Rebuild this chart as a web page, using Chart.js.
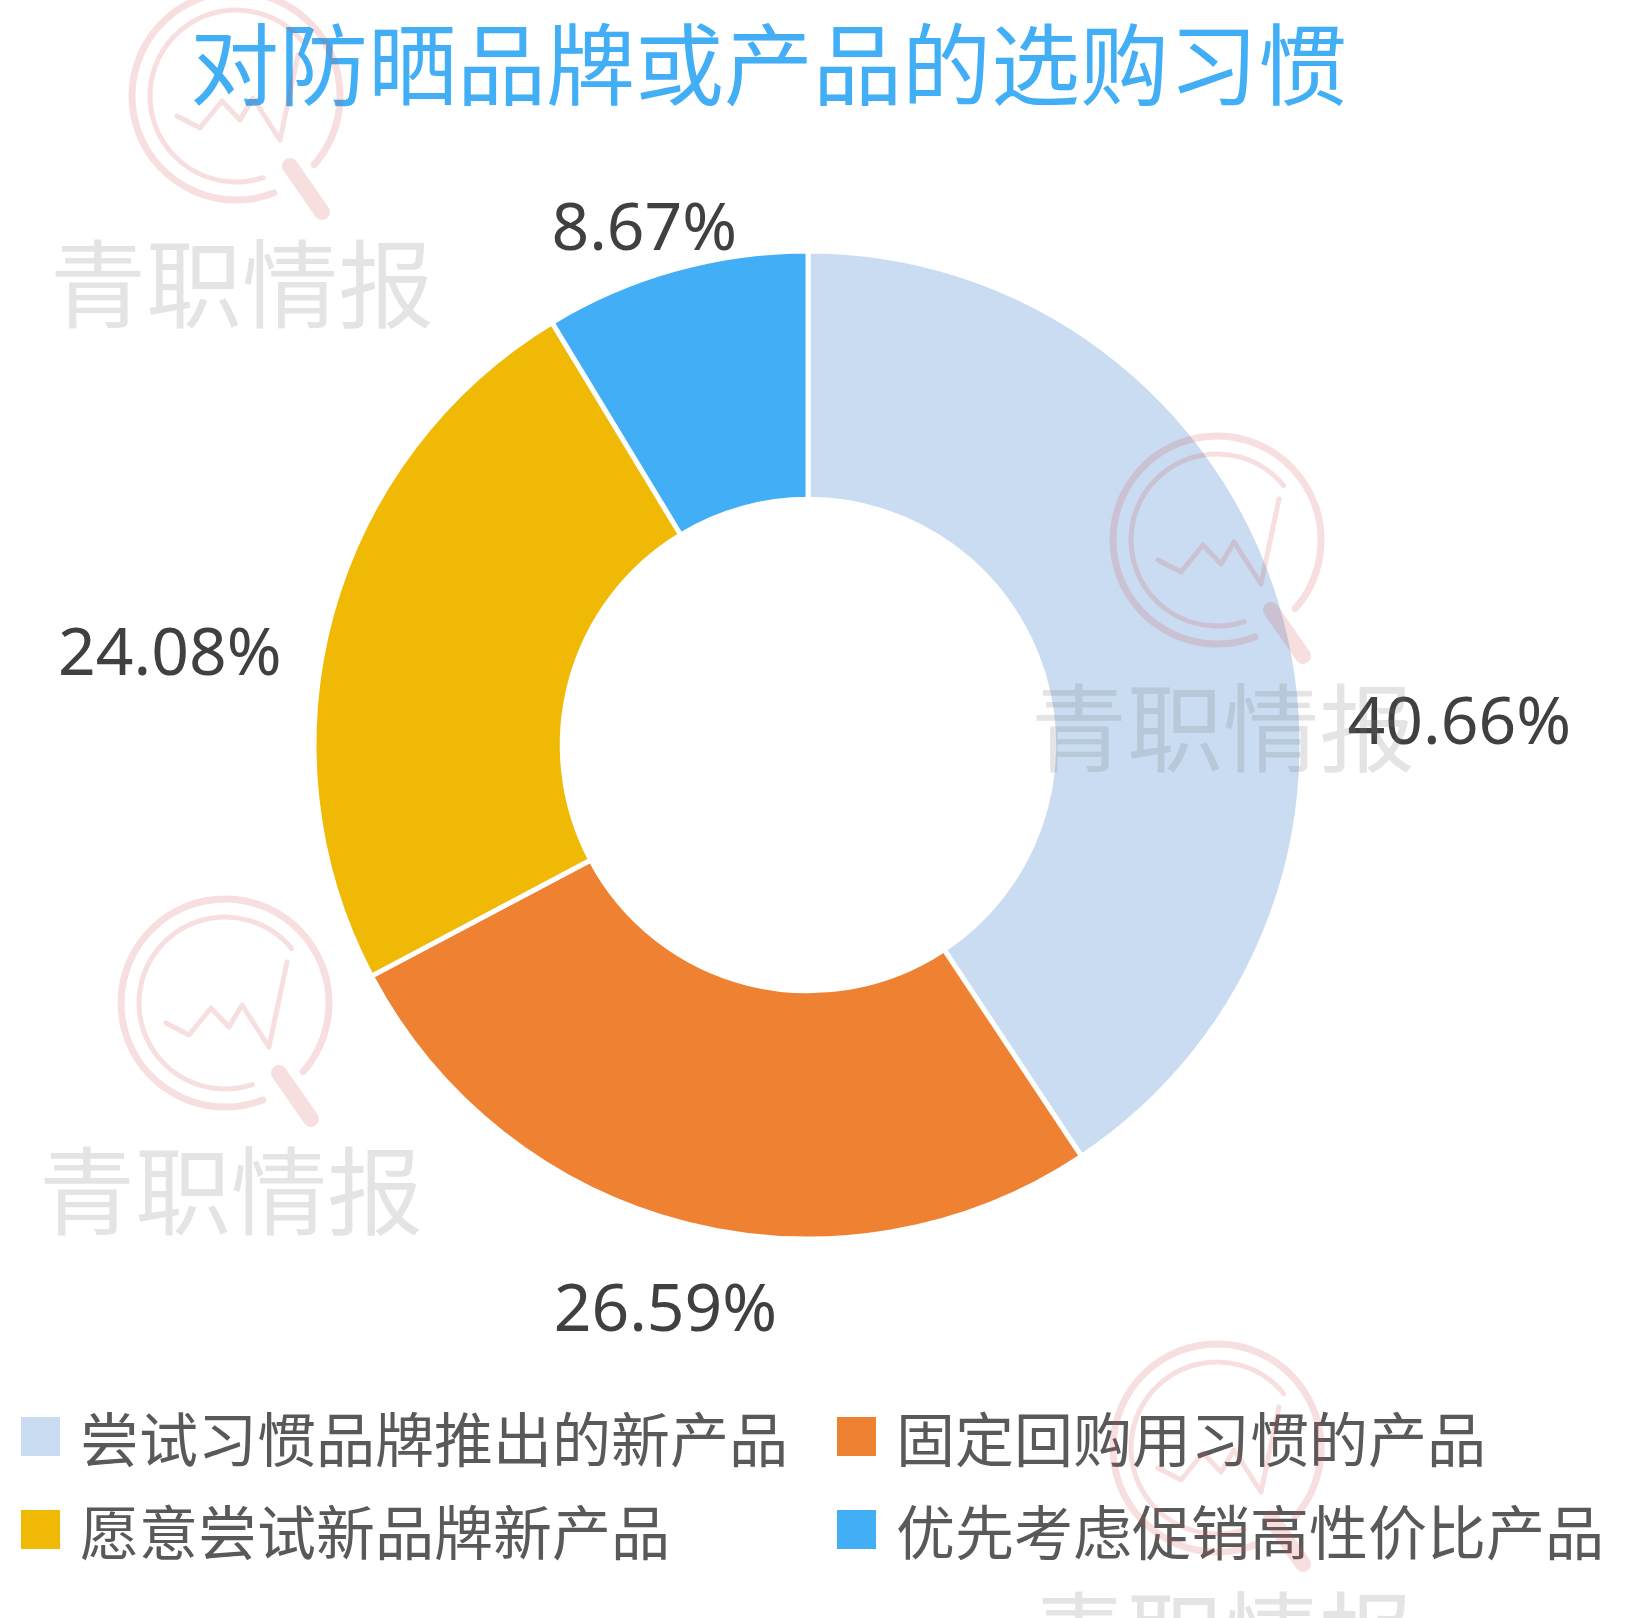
<!DOCTYPE html>
<html lang="zh-CN">
<head>
<meta charset="utf-8">
<title>对防晒品牌或产品的选购习惯</title>
<script src="https://cdn.jsdelivr.net/npm/chart.js@4.4.1/dist/chart.umd.min.js"></script>
<style>
  html, body { margin: 0; padding: 0; background: #fff; }
  #page { position: relative; width: 1629px; height: 1618px; overflow: hidden; }
  #habit-chart, #watermark { position: absolute; left: 0; top: 0; }
  #watermark { pointer-events: none; }
  .chart-title {
    position: absolute; left: 190px; top: 15px; margin: 0;
    font: 400 89px/89px "Noto Sans CJK SC", sans-serif;
    color: #42aef5; white-space: nowrap;
  }
  .legend {
    position: absolute; left: 21px; top: 1390px;
    display: grid; grid-template-columns: 816px auto; grid-auto-rows: 93px;
  }
  .legend-item { display: flex; align-items: center; }
  .legend-box { width: 39px; height: 39px; margin-right: 20px; flex: none; }
  .legend-text {
    font: 400 59px/59px "Noto Sans CJK SC", sans-serif;
    color: #595959; white-space: nowrap;
  }
</style>
</head>
<body>
<div id="page">
  <canvas id="habit-chart" width="1629" height="1618"></canvas>
  <h1 class="chart-title">对防晒品牌或产品的选购习惯</h1>
  <div class="legend" id="habit-legend"></div>
  <canvas id="watermark" width="1629" height="1618"></canvas>
</div>
<script>
const categories = ['尝试习惯品牌推出的新产品', '固定回购用习惯的产品', '愿意尝试新品牌新产品', '优先考虑促销高性价比产品'];
const shares = [40.66, 26.59, 24.08, 8.67];

const sliceColors = ['#c9dcf1', '#ee8232', '#f0b905', '#42aef6'];
// excel had nudged its data labels off the slice middles
const labelNudgeDeg = [14.6, 0, -7.1, -1.9];
const labelGap = [46, 61, 38, 25];
const watermarkSpots = [[242, 284], [1223, 728], [231, 1191], [1223, 1636]];

(function() {
  const canvas = document.getElementById('habit-chart');
  if (typeof Chart === 'undefined') {
    return;
  }

  const sliceLabels = {
    id: 'sliceLabels',
    afterDatasetsDraw(chart) {
      const { ctx } = chart;
      const meta = chart.getDatasetMeta(0);
      ctx.save();
      ctx.font = '400 66px "Noto Sans", sans-serif';
      ctx.fillStyle = '#404040';
      ctx.textAlign = 'center';
      ctx.textBaseline = 'middle';
      meta.data.forEach((arc, i) => {
        const { x, y, startAngle, endAngle, outerRadius } =
          arc.getProps(['x', 'y', 'startAngle', 'endAngle', 'outerRadius'], true);
        const angle = (startAngle + endAngle) / 2 + labelNudgeDeg[i] * Math.PI / 180;
        const text = shares[i].toFixed(2) + '%';
        const halfW = ctx.measureText(text).width / 2;
        const halfH = 24;
        const c = Math.abs(Math.cos(angle));
        const s = Math.abs(Math.sin(angle));
        const toEdge = Math.min(c > 1e-6 ? halfW / c : Infinity, s > 1e-6 ? halfH / s : Infinity);
        const r = outerRadius + labelGap[i] + toEdge;
        ctx.fillText(text, x + Math.cos(angle) * r, y + Math.sin(angle) * r + 5);
      });
      ctx.restore();
    }
  };

  const chart = new Chart(canvas, {
    type: 'doughnut',
    data: {
      labels: categories,
      datasets: [{
        data: shares,
        backgroundColor: sliceColors,
        borderColor: '#ffffff',
        borderWidth: 5,
        hoverOffset: 0
      }]
    },
    options: {
      responsive: false,
      animation: false,
      radius: 494,
      cutout: 247.5,
      layout: {
        padding: { left: 308, right: 321, top: 245, bottom: 373 }
      },
      plugins: {
        legend: { display: false },
        tooltip: { enabled: false },
        title: { display: false }
      }
    },
    plugins: [sliceLabels]
  });

  // two-column legend, excel style
  const legendEl = document.getElementById('habit-legend');
  chart.data.labels.forEach((label, i) => {
    const item = document.createElement('div');
    item.className = 'legend-item';
    const box = document.createElement('span');
    box.className = 'legend-box';
    box.style.background = chart.data.datasets[0].backgroundColor[i];
    const text = document.createElement('span');
    text.className = 'legend-text';
    text.textContent = label;
    item.appendChild(box);
    item.appendChild(text);
    legendEl.appendChild(item);
  });

  // faint 青职情报 watermark stamped over everything
  const wm = document.getElementById('watermark').getContext('2d');
  const zigzag = [[-59, 20], [-36, 32], [-14, 5], [4, 24], [17, 2], [44, 44], [62, -41]];
  watermarkSpots.forEach(([cx, cy]) => {
    const lx = cx - 6;
    const ly = cy - 188;
    wm.save();
    wm.strokeStyle = 'rgba(210, 80, 80, 0.18)';
    wm.lineCap = 'round';
    wm.lineJoin = 'round';

    wm.lineWidth = 7;
    wm.beginPath();
    wm.arc(lx, ly, 104, 1.2, 0.72 + Math.PI * 2);
    wm.stroke();

    wm.lineWidth = 5;
    wm.beginPath();
    wm.arc(lx, ly, 86, 1.25, 5.6);
    wm.stroke();

    wm.lineWidth = 5;
    wm.beginPath();
    zigzag.forEach(([dx, dy], k) => {
      if (k === 0) wm.moveTo(lx + dx, ly + dy);
      else wm.lineTo(lx + dx, ly + dy);
    });
    wm.stroke();

    wm.lineWidth = 16;
    wm.beginPath();
    wm.moveTo(lx + 54, ly + 70);
    wm.lineTo(lx + 86, ly + 116);
    wm.stroke();

    wm.fillStyle = 'rgba(120, 120, 120, 0.2)';
    wm.font = '400 96px "Noto Sans CJK SC", sans-serif';
    wm.textAlign = 'center';
    wm.textBaseline = 'middle';
    wm.fillText('青职情报', cx, cy);
    wm.restore();
  });
})();
</script>
</body>
</html>
